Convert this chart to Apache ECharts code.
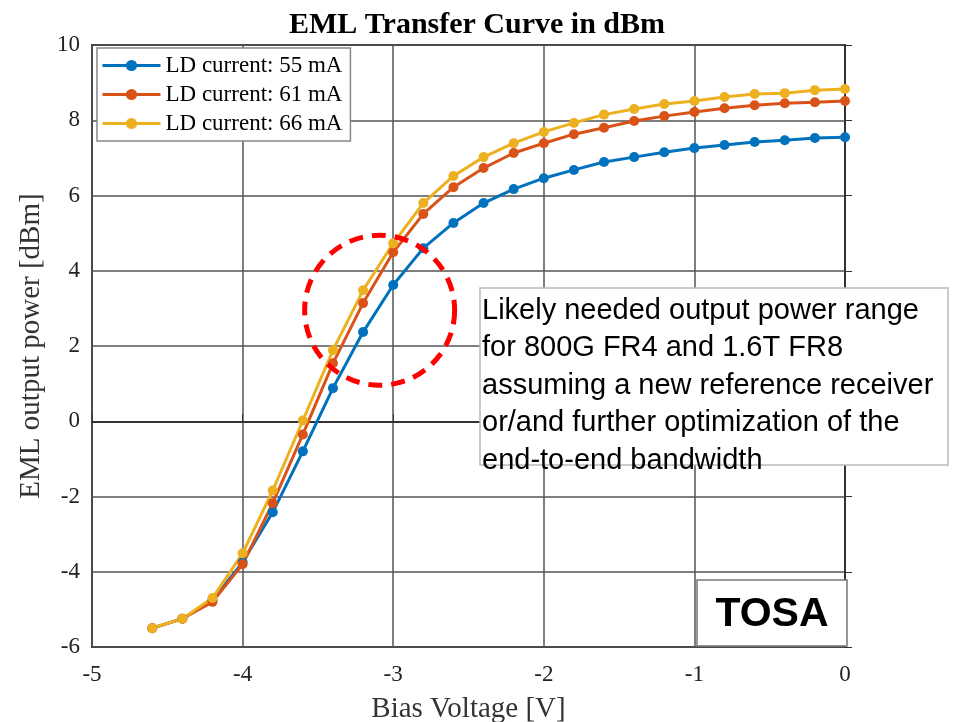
<!DOCTYPE html>
<html>
<head>
<meta charset="utf-8">
<title>EML Transfer Curve</title>
<script src="https://cdn.jsdelivr.net/npm/echarts@6/dist/echarts.min.js"></script>
<style>
  html, body { margin: 0; padding: 0; background: #fff; }
  #chart { width: 969px; height: 722px; }
</style>
</head>
<body>
<div id="chart"></div>
<script>
// bias voltage steps (V)
const biasVoltage = [-4.6, -4.4, -4.2, -4.0, -3.8, -3.6, -3.4, -3.2, -3.0, -2.8, -2.6, -2.4,
  -2.2, -2.0, -1.8, -1.6, -1.4, -1.2, -1.0, -0.8, -0.6, -0.4, -0.2, 0];

// output power (dBm) per LD current
const power55 = [-5.5, -5.25, -4.75, -3.75, -2.42, -0.8, 0.88, 2.37, 3.62, 4.6, 5.27, 5.8,
  6.17, 6.46, 6.68, 6.89, 7.02, 7.15, 7.26, 7.34, 7.42, 7.47, 7.53, 7.55];
const power61 = [-5.5, -5.25, -4.8, -3.8, -2.18, -0.35, 1.54, 3.14, 4.49, 5.51, 6.22, 6.73,
  7.13, 7.39, 7.63, 7.8, 7.98, 8.11, 8.22, 8.32, 8.4, 8.45, 8.48, 8.51];
const power66 = [-5.5, -5.25, -4.7, -3.51, -1.84, 0.02, 1.89, 3.48, 4.73, 5.8, 6.52, 7.02,
  7.39, 7.69, 7.93, 8.15, 8.3, 8.43, 8.51, 8.62, 8.7, 8.72, 8.8, 8.83];

const seriesNames = ["LD current: 55 mA", "LD current: 61 mA", "LD current: 66 mA"];
const seriesColors = ["#0072BD", "#D95319", "#EDB120"];

// highlighted region (circle centre in data units)
const circleCenter = [-3.09, 2.95];

const noteLines = [
  "Likely needed output power range",
  "for 800G FR4 and 1.6T FR8",
  "assuming a new reference receiver",
  "or/and further optimization of the",
  "end-to-end bandwidth"
];

const serif = "'Liberation Serif', 'Times New Roman', serif";
const sans = "'Liberation Sans', Arial, sans-serif";

const myChart = echarts.init(document.getElementById("chart"));

function makeSeries(name, values, color) {
  return {
    name: name,
    type: "line",
    data: biasVoltage.map((v, i) => [v, values[i]]),
    symbol: "circle",
    symbolSize: 10,
    lineStyle: { width: 3, color: color },
    itemStyle: { color: color },
    emphasis: { disabled: true },
    z: 3
  };
}

myChart.setOption({
  animation: false,
  title: {
    text: "EML Transfer Curve in dBm",
    left: 472,
    textAlign: "center",
    top: 5,
    textStyle: { fontFamily: serif, fontSize: 30, fontWeight: "bold", color: "#000" }
  },
  legend: {
    left: 97,
    top: 48,
    orient: "vertical",
    itemWidth: 58,
    itemHeight: 14,
    itemGap: 6,
    padding: [6, 8, 6, 4],
    backgroundColor: "#fff",
    borderColor: "#888",
    borderWidth: 1.5,
    borderRadius: 0,
    lineStyle: { width: 3 },
    textStyle: { fontFamily: serif, fontSize: 23, color: "#000" },
    data: seriesNames
  },
  grid: {
    left: 92,
    right: 124,
    top: 45,
    bottom: 75,
    show: true,
    borderColor: "#333",
    borderWidth: 2,
    outerBoundsMode: "none"
  },
  xAxis: {
    type: "value",
    min: -5,
    max: 0,
    interval: 1,
    name: "Bias Voltage [V]",
    nameLocation: "middle",
    nameGap: 48,
    nameTextStyle: { fontFamily: serif, fontSize: 29, color: "#333" },
    axisLine: { show: true, lineStyle: { color: "#333", width: 2 } },
    axisTick: { show: true, inside: true, length: 7, lineStyle: { color: "#333" } },
    axisLabel: { fontFamily: serif, fontSize: 23, color: "#222", margin: 16 },
    splitLine: { show: true, lineStyle: { color: "#555", width: 1.5 } }
  },
  yAxis: {
    type: "value",
    min: -6,
    max: 10,
    interval: 2,
    name: "EML output power [dBm]",
    nameLocation: "middle",
    nameGap: 43,
    nameRotate: 90,
    nameTextStyle: { fontFamily: serif, fontSize: 29, color: "#333" },
    axisLine: { show: true, lineStyle: { color: "#333", width: 2 } },
    axisTick: { show: true, inside: true, length: 7, lineStyle: { color: "#333" } },
    axisLabel: { fontFamily: serif, fontSize: 23, color: "#222", margin: 12 },
    splitLine: { show: true, lineStyle: { color: "#555", width: 1.5 } }
  },
  series: [
    makeSeries(seriesNames[0], power55, seriesColors[0]),
    makeSeries(seriesNames[1], power61, seriesColors[1]),
    makeSeries(seriesNames[2], power66, seriesColors[2])
  ]
});

// annotations: dashed circle, note box and TOSA tag
const c = myChart.convertToPixel({ gridIndex: 0 }, circleCenter);
myChart.setOption({
  graphic: [
    {
      type: "circle",
      shape: { cx: c[0], cy: c[1], r: 75 },
      style: { fill: null, stroke: "#ff0000", lineWidth: 5, lineDash: [14, 9] },
      z: 20
    },
    {
      type: "rect",
      shape: { x: 480, y: 288, width: 468, height: 177 },
      style: { fill: "#fff", stroke: "#bbb", lineWidth: 1.5 },
      z: 20
    },
    {
      type: "text",
      x: 482,
      y: 292,
      z: 21,
      style: {
        text: noteLines.join("\n"),
        font: "29px " + sans,
        lineHeight: 37.5,
        fill: "#000"
      }
    },
    {
      type: "rect",
      shape: { x: 697, y: 580, width: 150, height: 66 },
      style: { fill: "#fff", stroke: "#777", lineWidth: 1.5 },
      z: 20
    },
    {
      type: "text",
      x: 772,
      y: 615,
      z: 21,
      style: {
        text: "TOSA",
        font: "bold 41px " + sans,
        align: "center",
        verticalAlign: "middle",
        fill: "#000"
      }
    }
  ]
});
</script>
</body>
</html>
